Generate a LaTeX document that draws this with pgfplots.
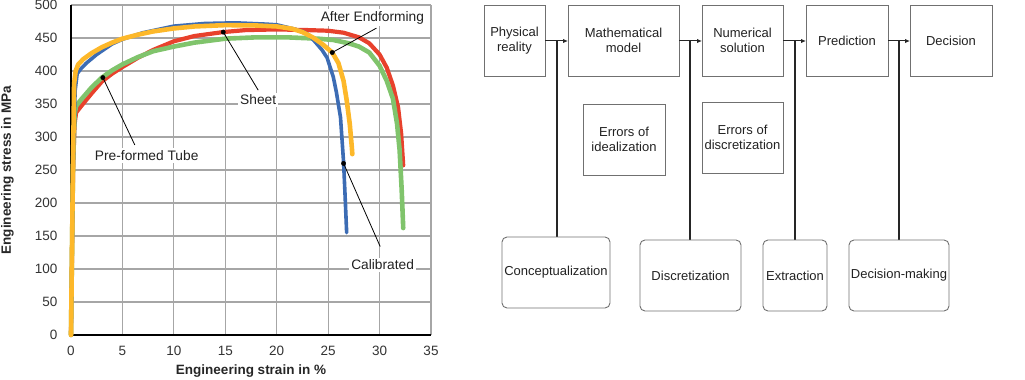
\documentclass[border=0pt]{standalone}
\usepackage{fontspec}
\setmainfont{Liberation Sans}
\usepackage{pgfplots}
\pgfplotsset{compat=1.18}
\usetikzlibrary{arrows.meta}
\definecolor{cRed}{HTML}{E8412C}
\definecolor{cGreen}{HTML}{80C46C}
\definecolor{cBlue}{HTML}{3C6CB4}
\definecolor{cYellow}{HTML}{FDB82A}
\definecolor{boxgray}{HTML}{707070}
\definecolor{txt}{HTML}{222222}
\begin{document}
\begin{tikzpicture}[x=1pt,y=1pt]
\useasboundingbox (0,0) rectangle (1025,380);
\begin{axis}[
  at={(71pt,45pt)}, anchor=south west, scale only axis,
  width=360pt, height=330pt,
  xmin=0, xmax=35, ymin=0, ymax=500,
  xtick={0,5,...,35}, ytick={0,50,...,500},
  axis lines=left,
  axis line style={-, black, line width=2.2pt},
  grid=major, grid style={black!35, line width=1.1pt},
  major tick length=0pt,
  tick label style={font=\fontsize{13.5}{16}\selectfont, text=black!80},
  /pgf/number format/assume math mode=true,
  xticklabel style={yshift=-8pt},
  yticklabel style={xshift=-10pt},
  xlabel={Engineering strain in \%},
  ylabel={Engineering stress in MPa},
  label style={font=\bfseries\fontsize{13.5}{16}\selectfont, text=black!85},
  xlabel style={at={(axis description cs:0.5,0)}, anchor=north, yshift=-30pt, inner sep=0pt},
  ylabel style={at={(axis description cs:-0.1944,0.5)}, anchor=north, inner sep=0pt},
  clip=false,
]
% Sheet
\addplot[cRed, line width=4.2pt, line join=round, line cap=round] coordinates {
(0,0) (0.2,250) (0.35,320) (0.5,337) (1,347) (2,366) (3,384) (4,396) (5,406) (6.5,420) (8,432) (10,445) (12,453) (14.8,459) (17,462) (20,463) (23,462) (25,461) (26.5,458) (28,451) (29,442) (30,425) (30.7,405) (31.3,378) (31.8,345) (32.1,305) (32.3,257)};
% Pre-formed Tube
\addplot[cGreen, line width=4.6pt, line join=round, line cap=round] coordinates {
(0,0) (0.2,260) (0.35,335) (0.5,347) (1,357) (2,375) (3,390) (4,401) (5,410) (6.5,421) (8,430) (10,437) (12,443) (15,449) (18,451) (21,451) (24,449) (25.5,447) (27,442) (28,437) (29,428) (30,408) (30.7,385) (31.3,358) (31.7,320) (31.95,280) (32.15,220) (32.3,162)};
% Calibrated
\addplot[cBlue, line width=3.6pt, line join=round, line cap=round] coordinates {
(0,0) (0.2,250) (0.4,370) (0.6,396) (1,404) (1.5,412) (2.5,425) (4,441) (5,448) (7,458) (10,468) (13,472) (16,473) (19,471) (20,470) (21.6,464) (22.5,460) (23.1,455) (23.8,443) (24.4,432) (24.9,420) (25.5,391) (25.8,368) (26.2,330) (26.5,262) (26.65,210) (26.8,155)};
% After Endforming
\addplot[cYellow, line width=4.6pt, line join=round, line cap=round] coordinates {
(0,0) (0.15,200) (0.3,380) (0.45,400) (0.7,410) (1.2,418) (2,427) (3,436) (4,443) (5,449) (6.5,455) (8,460) (10,464.5) (12,467.5) (15,469.5) (18,469) (20,467.5) (21.5,464) (22.5,459) (23.5,451) (24.5,440) (25.4,428) (26,412) (26.5,385) (26.8,356) (27.1,320) (27.3,285) (27.35,274)};
% annotations
\addplot[black, line width=0.8pt] coordinates {(14.8,459) (18.2,371)};
\addplot[black, line width=0.8pt] coordinates {(3.1,390) (6.2,288)};
\addplot[black, line width=0.8pt] coordinates {(25.4,428) (29.7,465)};
\addplot[black, line width=0.8pt] coordinates {(26.5,260) (30.06,134)};
\addplot[only marks, mark=*, mark size=2.2pt, black] coordinates {(14.8,459) (3.1,390) (25.4,428) (26.5,260)};
\node[fill=white, inner sep=2pt, font=\fontsize{13.75}{16}\selectfont, text=txt] at (axis cs:18.2,356) {Sheet};
\node[fill=white, inner sep=2pt, font=\fontsize{13.75}{16}\selectfont, text=txt] at (axis cs:7.36,272) {Pre-formed Tube};
\node[fill=white, inner sep=2pt, font=\fontsize{13.75}{16}\selectfont, text=txt] at (axis cs:29.3,481) {After Endforming};
\node[fill=white, inner sep=2pt, font=\fontsize{13.75}{16}\selectfont, text=txt] at (axis cs:30.3,106) {Calibrated};
\end{axis}
% ---- diagram ----
\begin{scope}[font=\fontsize{13}{15.5}\selectfont, text=txt]
\draw[boxgray, line width=0.9pt] (484,304) rectangle (545,375);
\node[align=center] at (514.5,339.5) {Physical\\reality};
\draw[boxgray, line width=0.9pt] (568,304) rectangle (679,375);
\node[align=center] at (623.5,339.5) {Mathematical\\model};
\draw[boxgray, line width=0.9pt] (702,304) rectangle (783,375);
\node[align=center] at (742.5,339.5) {Numerical\\solution};
\draw[boxgray, line width=0.9pt] (806,304) rectangle (888,375);
\node[align=center] at (847,339.5) {Prediction};
\draw[boxgray, line width=0.9pt] (910,304) rectangle (992,375);
\node[align=center] at (951,339.5) {Decision};
\draw[boxgray, line width=0.9pt] (583,205) rectangle (665,276);
\node[align=center] at (624,240.5) {Errors of\\idealization};
\draw[boxgray, line width=0.9pt] (702,207) rectangle (783,278);
\node[align=center] at (742.5,242.5) {Errors of\\discretization};
% arrows
\draw[black!85, line width=1pt, -{Latex[length=5pt,width=4.5pt]}] (545,339) -- (568,339);
\draw[black!85, line width=1pt, -{Latex[length=5pt,width=4.5pt]}] (679,339) -- (702,339);
\draw[black!85, line width=1pt, -{Latex[length=5pt,width=4.5pt]}] (783,339) -- (806,339);
\draw[black!85, line width=1pt, -{Latex[length=5pt,width=4.5pt]}] (888,339) -- (910,339);
\draw[black!85, line width=1.1pt] (557,339) -- (557,143);
\draw[black!85, line width=1.1pt] (690,339) -- (690,140);
\draw[black!85, line width=1.1pt] (795,339) -- (795,140);
\draw[black!85, line width=1.1pt] (899,339) -- (899,140);
% bottom boxes
\draw[boxgray, line width=0.9pt, rounded corners=5pt] (502,72) rectangle (610,143);
\node at (556,107.5) {Conceptualization};
\draw[boxgray, line width=0.9pt, rounded corners=5pt] (640,69) rectangle (741,140);
\node at (690.5,104.5) {Discretization};
\draw[boxgray, line width=0.9pt, rounded corners=5pt] (763,69) rectangle (827,140);
\node at (795,104.5) {Extraction};
\draw[boxgray, line width=0.9pt, rounded corners=5pt] (849,69) rectangle (949,140);
\node at (899,104.5) {Decision-making};
\end{scope}
\end{tikzpicture}
\end{document}
